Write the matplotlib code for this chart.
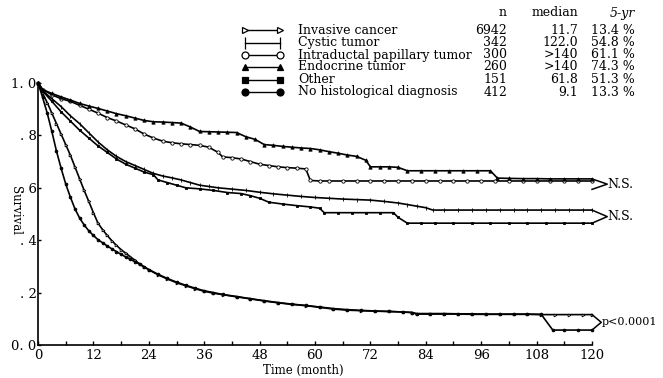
import matplotlib
matplotlib.use("Agg")
import matplotlib.pyplot as plt
from matplotlib.ticker import MultipleLocator

plt.rcParams['font.family'] = 'DejaVu Serif'

# Kaplan-Meier readings: months and cumulative survival for each group
inv_t = [0, 1, 2, 3, 4, 5, 6, 7, 8, 9,
         10, 11, 12, 13, 14, 15, 16, 17, 18, 19,
         20, 21, 22, 23, 24, 26, 28, 30, 32, 34,
         36, 38, 40, 43, 46, 49, 52, 55, 58, 61,
         64, 67, 70, 73, 76, 79, 81, 82, 85, 88,
         91, 94, 97, 100, 103, 106, 109, 112, 115, 118, 120]
inv_s = [1.0, 0.96, 0.925, 0.885, 0.845, 0.805, 0.765, 0.725, 0.68, 0.635,
         0.59, 0.548, 0.505, 0.465, 0.44, 0.418, 0.398, 0.38, 0.364, 0.35,
         0.337, 0.323, 0.31, 0.298, 0.287, 0.268, 0.252, 0.238, 0.226, 0.215,
         0.205, 0.198, 0.192, 0.184, 0.176, 0.168, 0.161, 0.155, 0.15, 0.144,
         0.137, 0.133, 0.131, 0.129, 0.128, 0.126, 0.124, 0.118, 0.118, 0.118,
         0.118, 0.117, 0.117, 0.117, 0.117, 0.117, 0.116, 0.116, 0.116, 0.116, 0.116]

cyst_t = [0, 1, 3, 5, 7, 9, 11, 13, 15, 17,
          19, 21, 23, 25, 27, 29, 31, 33, 35, 37,
          39, 42, 45, 48, 51, 54, 57, 60, 63, 66,
          69, 72, 75, 78, 80, 82, 84, 85.5, 88, 91,
          94, 97, 100, 103, 106, 109, 112, 115, 118, 120]
cyst_s = [1.0, 0.97, 0.94, 0.91, 0.875, 0.845, 0.81, 0.775, 0.745, 0.72,
          0.70, 0.685, 0.67, 0.655, 0.645, 0.638, 0.63, 0.62, 0.61, 0.605,
          0.60, 0.595, 0.59, 0.583, 0.577, 0.572, 0.567, 0.563, 0.56, 0.557,
          0.555, 0.553, 0.548, 0.542, 0.536, 0.53, 0.524, 0.515, 0.515, 0.515,
          0.515, 0.515, 0.515, 0.515, 0.515, 0.515, 0.515, 0.515, 0.515, 0.515]

ipmt_t = [0, 1, 3, 5, 7, 9, 11, 13, 15, 17,
          19, 21, 23, 25, 27, 29, 31, 33, 35, 37,
          39, 40, 42, 44, 46, 48, 50, 52, 54, 56,
          58, 59, 61, 63, 66, 69, 72, 75, 78, 81,
          84, 87, 90, 93, 96, 99, 102, 105, 108, 111,
          114, 117, 120]
ipmt_s = [1.0, 0.975, 0.955, 0.94, 0.93, 0.915, 0.9, 0.885, 0.868, 0.855,
          0.84, 0.825, 0.805, 0.79, 0.778, 0.772, 0.768, 0.765, 0.762, 0.755,
          0.735, 0.718, 0.715, 0.71, 0.70, 0.69, 0.685, 0.68, 0.677, 0.675,
          0.672, 0.628, 0.626, 0.626, 0.626, 0.626, 0.626, 0.626, 0.626, 0.626,
          0.626, 0.626, 0.626, 0.626, 0.626, 0.626, 0.626, 0.626, 0.626, 0.626,
          0.626, 0.626, 0.626]

endo_t = [0, 1, 3, 5, 7, 9, 11, 13, 15, 17,
          19, 21, 23, 25, 27, 29, 31, 33, 35, 37,
          39, 41, 43, 45, 47, 49, 51, 53, 55, 57,
          59, 61, 63, 65, 67, 69, 71, 72, 74, 76,
          78, 80, 83, 86, 89, 92, 95, 98, 99.5, 102,
          105, 108, 111, 114, 117, 120]
endo_s = [1.0, 0.975, 0.96, 0.947, 0.935, 0.922, 0.912, 0.903, 0.893, 0.883,
          0.875, 0.866, 0.857, 0.852, 0.851, 0.849, 0.847, 0.832, 0.815, 0.814,
          0.813, 0.812, 0.811, 0.795, 0.785, 0.765, 0.762, 0.758, 0.755, 0.752,
          0.75, 0.745, 0.738, 0.732, 0.725, 0.72, 0.705, 0.68, 0.68, 0.68,
          0.678, 0.665, 0.665, 0.665, 0.665, 0.665, 0.665, 0.665, 0.637, 0.636,
          0.635, 0.635, 0.634, 0.634, 0.634, 0.634]

other_t = [0, 1, 3, 5, 7, 9, 11, 13, 15, 17,
           19, 21, 23, 25, 26, 28, 30, 32, 35, 38,
           41, 44, 46, 48, 50, 53, 56, 59, 61, 62,
           65, 68, 71, 74, 77, 78, 80, 83, 86, 90,
           94, 98, 102, 106, 110, 114, 118, 120]
other_s = [1.0, 0.97, 0.93, 0.89, 0.855, 0.82, 0.79, 0.76, 0.735, 0.71,
           0.69, 0.675, 0.66, 0.65, 0.63, 0.62, 0.61, 0.60, 0.596, 0.59,
           0.582, 0.578, 0.57, 0.56, 0.545, 0.538, 0.532, 0.527, 0.522, 0.505,
           0.505, 0.505, 0.505, 0.505, 0.505, 0.487, 0.465, 0.465, 0.465, 0.465,
           0.465, 0.465, 0.465, 0.465, 0.465, 0.465, 0.465, 0.465]

nohist_t = [0, 1, 2, 3, 4, 5, 6, 7, 8, 9,
            10, 11, 12, 13, 14, 15, 16, 17, 18, 19,
            20, 21, 22, 23, 24, 26, 28, 30, 32, 34,
            36, 38, 40, 43, 46, 49, 52, 55, 58, 61,
            64, 67, 70, 73, 76, 79, 81, 82, 85, 88,
            91, 94, 97, 100, 103, 106, 109, 111.5, 114, 117, 120]
nohist_s = [1.0, 0.945, 0.885, 0.815, 0.74, 0.675, 0.615, 0.565, 0.52, 0.485,
            0.458, 0.436, 0.418, 0.402, 0.39, 0.378, 0.367, 0.356, 0.346, 0.336,
            0.327, 0.318, 0.308, 0.298, 0.288, 0.27, 0.254, 0.24, 0.228, 0.217,
            0.207, 0.2, 0.193, 0.185, 0.177, 0.169, 0.162, 0.156, 0.151, 0.145,
            0.139, 0.135, 0.132, 0.13, 0.128, 0.126, 0.124, 0.12, 0.12, 0.12,
            0.119, 0.119, 0.118, 0.118, 0.118, 0.118, 0.117, 0.057, 0.057, 0.057, 0.057]

groups = ["Invasive cancer", "Cystic tumor", "Intraductal papillary tumor",
          "Endocrine tumor", "Other", "No histological diagnosis"]
n_cases = ["6942", "342", "300", "260", "151", "412"]
medians = ["11.7", "122.0", ">140", ">140", "61.8", "9.1"]
five_yr = ["13.4 %", "54.8 %", "61.1 %", "74.3 %", "51.3 %", "13.3 %"]

x_ticks = list(range(0, 121, 12))
y_ticks = [0, 0.2, 0.4, 0.6, 0.8, 1.0]
y_tick_labels = ["0. 0", ". 2", ". 4", ". 6", ". 8", "1. 0"]

# marker style per group: marker, size, face colour
styles = [
    (inv_t, inv_s, '>', 2.0, 'white'),
    (cyst_t, cyst_s, '|', 3.5, 'black'),
    (ipmt_t, ipmt_s, 'o', 2.4, 'white'),
    (endo_t, endo_s, '^', 2.4, 'black'),
    (other_t, other_s, 's', 1.9, 'black'),
    (nohist_t, nohist_s, 'o', 2.0, 'black'),
]

W, H = 663, 378
fig = plt.figure(figsize=(W / 100, H / 100), dpi=100)

# pixel-space layer for the key table and loose labels
lay = fig.add_axes([0, 0, 1, 1])
lay.set_xlim(0, W)
lay.set_ylim(H, 0)
lay.axis('off')

ax = fig.add_axes([38 / W, 1 - 345 / H, (592 - 38) / W, (345 - 83) / H])
ax.patch.set_visible(False)

for t, s, mk, ms, fc in styles:
    ax.plot(t, s, color='black', lw=1.2, marker=mk,
            markersize=ms, markerfacecolor=fc, markeredgecolor='black',
            markeredgewidth=0.6, clip_on=False)


def bracket(a, b, label, tip_x, spread=0.0, size=9):
    hi, lo = max(a, b), min(a, b)
    lo = min(lo, hi - spread)
    mid = (hi + lo) / 2
    ax.plot([120, tip_x, 120], [hi, mid, lo], color='black', lw=1.1,
            clip_on=False)
    ax.text(tip_x + 0.1, mid, label, fontsize=size, va='center', ha='left',
            clip_on=False)


bracket(endo_s[-1], ipmt_s[-1], "N.S.", 123.3, spread=0.04)
bracket(cyst_s[-1], other_s[-1], "N.S.", 123.3)
bracket(inv_s[-1], nohist_s[-1], "p<0.0001", 122.0, size=8)

ax.set_xlim(0, 120)
ax.set_ylim(0, 1)
ax.spines['top'].set_visible(False)
ax.spines['right'].set_visible(False)
ax.spines['left'].set_linewidth(1.2)
ax.spines['bottom'].set_linewidth(1.2)
ax.set_xticks(x_ticks)
ax.xaxis.set_minor_locator(MultipleLocator(6))
ax.set_yticks(y_ticks)
ax.set_yticklabels(y_tick_labels)
ax.tick_params(axis='x', which='both', direction='in', length=3, width=1,
               pad=3, labelsize=9.5)
ax.tick_params(axis='y', direction='in', length=2, width=1, pad=1,
               labelsize=9.5)

lay.text(303, 370, "Time (month)", fontsize=8.5, ha='center', va='center')
lay.text(15, 210, "Survival", fontsize=8.5, ha='center', va='center',
         rotation=-90)

# key table
row_y = [30, 42.5, 55, 67, 79.5, 92]
lay.text(507, 13, "n", fontsize=9, ha='right', va='center')
lay.text(578, 13, "median", fontsize=9, ha='right', va='center')
lay.text(635, 13, "5-yr", fontsize=9, ha='right', va='center', style='italic')
for i, (_, _, mk, ms, fc) in enumerate(styles):
    y = row_y[i]
    lay.plot([245, 280], [y, y], color='black', lw=1.0, marker=mk,
             markersize=5 if mk != '|' else 8, markerfacecolor=fc,
             markeredgecolor='black', markeredgewidth=0.9)
    lay.text(298, y, groups[i], fontsize=9, ha='left', va='center')
    lay.text(507, y, n_cases[i], fontsize=9, ha='right', va='center')
    lay.text(578, y, medians[i], fontsize=9, ha='right', va='center')
    lay.text(635, y, five_yr[i], fontsize=9, ha='right', va='center')

fig.savefig("out.png", dpi=100)
